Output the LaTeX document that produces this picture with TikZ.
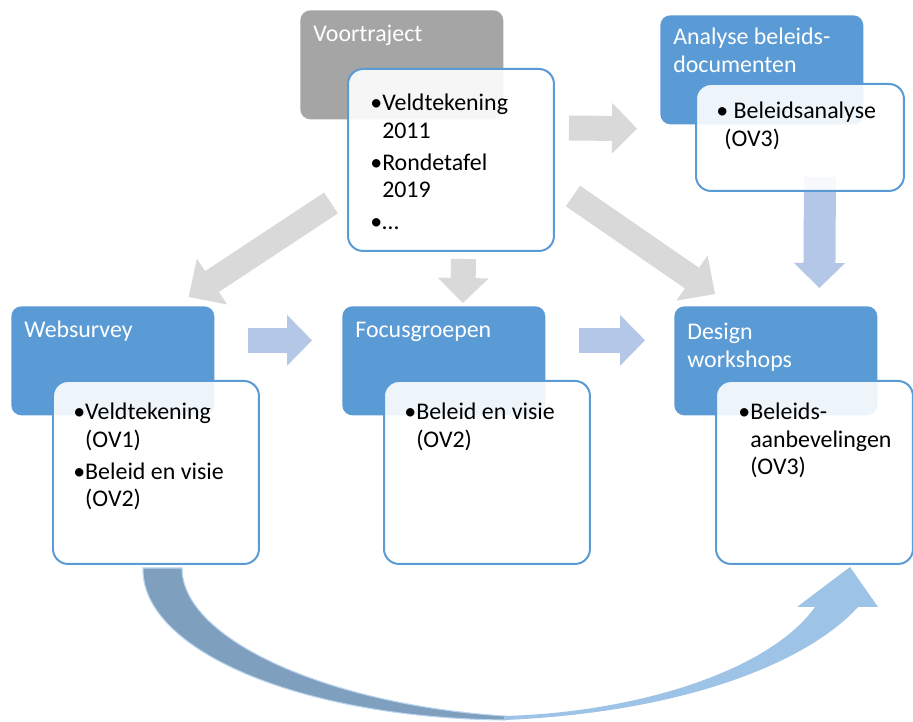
\documentclass[tikz,border=0pt]{standalone}
\usepackage{fontspec}
\setmainfont{Carlito}
\usetikzlibrary{positioning,arrows.meta,backgrounds}
\definecolor{flowBlue}{HTML}{5B9BD5}
\definecolor{flowGray}{HTML}{A5A5A5}
\definecolor{arrowGray}{HTML}{D9D9D9}
\definecolor{arrowBlue}{HTML}{B4C7E7}
\definecolor{curveDark}{HTML}{7F9FBF}
\definecolor{curveLight}{HTML}{9DC3E6}
\tikzset{
  head/.style={rounded corners=0.2cm, anchor=north west, minimum width=4.06cm, minimum height=2.18cm, inner sep=0pt},
  headBlue/.style={head, fill=flowBlue},
  headGray/.style={head, fill=flowGray},
  card/.style={draw=flowBlue, line width=0.04cm, fill=white, fill opacity=0.9, text opacity=1, rounded corners=0.3cm, anchor=north west, minimum width=4.12cm, minimum height=3.66cm, inner sep=0pt},
  headText/.style={anchor=base west, inner sep=0pt, text=white, xshift=0.26cm, yshift=-0.64cm},
  cardText/.style={anchor=base west, inner sep=0pt, text=black, text opacity=1, xshift=0.42cm, yshift=-0.8cm},
  flowArrow/.style={line width=0.5cm, -{Triangle[length=0.5cm, width=1.02cm, line width=0pt]}},
  grayArrow/.style={flowArrow, draw=arrowGray},
  blueArrow/.style={flowArrow, draw=arrowBlue}
}
\newcommand{\twoline}[1]{\begin{tabular}[t]{@{}l@{}}#1\end{tabular}}
\newcommand{\bullets}[1]{\begin{tabular}[t]{@{}l@{}l@{}}#1\end{tabular}}

\begin{document}
\begin{tikzpicture}[x=0.02cm, y=-0.02cm, font=\fontsize{13.6pt}{15.4pt}\selectfont]
  \useasboundingbox (0,0) rectangle (913,722);

  % title boxes
  \node[headGray, label={[headText]north west:\twoline{Voortraject}}] (voorT) at (300,10) {};
  \node[headBlue, minimum height=2.18cm, label={[headText, yshift=0.04cm]north west:\twoline{Analyse beleids-\\documenten}}] (anaT) at (660,15) {};
  \node[headBlue, label={[headText]north west:\twoline{Websurvey}}] (webT) at (11,306) {};
  \node[headBlue, label={[headText]north west:\twoline{Focusgroepen}}] (focT) at (342,306) {};
  \node[headBlue, label={[headText, yshift=-0.04cm]north west:\twoline{Design\\workshops}}] (desT) at (674,306) {};

  % content cards
  \node[card, minimum height=3.64cm, label={[cardText, xshift=0.04cm, yshift=-0.06cm]north west:\bullets{\textbullet & Veldtekening\\ & 2011\\[0.1cm] \textbullet & Rondetafel\\ & 2019\\[0.1cm] \textbullet & \dots}}] (voorB) at (347,68) {};
  \node[card, minimum width=4.16cm, minimum height=2.14cm, label={[cardText, yshift=0.08cm]north west:\twoline{\textbullet\ Beleidsanalyse\\\hspace{0.16cm}(OV3)}}] (anaB) at (695,83) {};
  \node[card, label={[cardText]north west:\bullets{\textbullet & Veldtekening\\ & (OV1)\\[0.1cm] \textbullet & Beleid en visie\\ & (OV2)}}] (webB) at (52,380) {};
  \node[card, label={[cardText]north west:\bullets{\textbullet & Beleid en visie\\ & (OV2)}}] (focB) at (383,380) {};
  \node[card, minimum width=3.94cm, label={[cardText, xshift=0.04cm]north west:\bullets{\textbullet & Beleids-\\ & aanbevelingen\\ & (OV3)}}] (desB) at (715,380) {};

  \begin{scope}[on background layer]
    % grey arrows out of the voortraject
    \draw[grayArrow] ([shift={(14,60)}]voorB.north east) -- ([shift={(-23,4)}]anaT.south west);
    \draw[grayArrow, -{Triangle[length=0.56cm, width=1.1cm, line width=0pt]}] ([shift={(-16,-49)}]voorB.south west) -- ([shift={(-26,-9)}]webT.north east);
    \draw[grayArrow] ([shift={(12.5,7)}]voorB.south) -- ([shift={(19,-3)}]focT.north);
    \draw[grayArrow, -{Triangle[length=0.56cm, width=1.1cm, line width=0pt]}] ([shift={(18,36)}]voorB.east) -- ([shift={(41,-12)}]desT.north west);
    % blue arrows between the steps
    \draw[blueArrow] ([shift={(33,-20.5)}]webT.east) -- ([shift={(-30,-20.5)}]focT.west);
    \draw[blueArrow] ([shift={(33,-20.5)}]focT.east) -- ([shift={(-29,-20.5)}]desT.west);
    \draw[blueArrow, line width=0.64cm] ([shift={(20,-15)}]anaB.south) -- ([shift={(43.5,-18)}]desT.north);
    % curved arrow from websurvey to design workshops
    \fill[curveDark, draw=curveLight!70, line width=0.6pt] (143,568) .. controls (141,650) and (300,718) .. (505,720)
      -- (505,716) .. controls (330,705) and (182,640) .. (182,568) -- cycle;
    \fill[curveLight] (505,720) .. controls (690,712) and (810,660) .. (858,607) -- (878,607) -- (850,567) -- (797,607)
      -- (815,607) .. controls (770,670) and (640,712) .. (505,716) -- cycle;
  \end{scope}
\end{tikzpicture}
\end{document}
